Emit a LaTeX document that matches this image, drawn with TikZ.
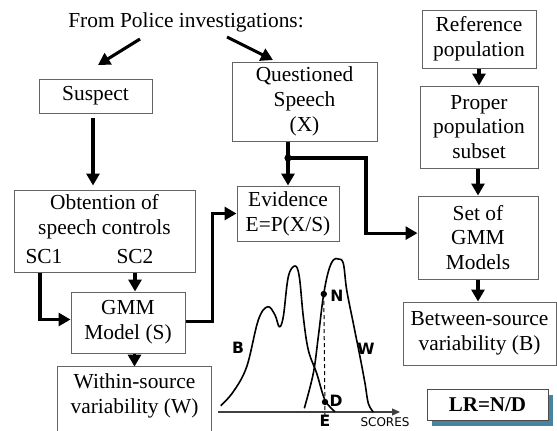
\documentclass[tikz,border=0pt]{standalone}
\usepackage{fontspec}
\setmainfont{Liberation Serif}
\newfontfamily\plotfont{DejaVu Sans}
\usetikzlibrary{arrows.meta,shadows}
\definecolor{boxgray}{RGB}{100,100,100}
\definecolor{shadowblue}{RGB}{72,132,160}
\begin{document}
\begin{tikzpicture}[x=0.5pt,y=-0.5pt,
  txt/.style={font=\fontsize{10.7}{12.4}\selectfont, align=center, inner sep=0pt},
  box/.style={txt, draw=boxgray, line width=0.5pt},
  conn/.style={line width=1.55pt, -{Triangle[length=6pt,width=6.5pt]}},
  plotlbl/.style={font=\plotfont\bfseries\fontsize{7.8}{8}\selectfont, inner sep=0pt},
  curve/.style={line width=0.8pt, smooth, tension=0.6},
  dotmark/.style={fill=black}
]
\useasboundingbox (0,0) rectangle (557,430);

% title
\node[txt] (title) at (186,22) {From Police investigations:};

% boxes
\node[box, minimum width=56.5pt, minimum height=17pt] (suspect) at (95.5,96) {Suspect};
\node[box, minimum width=72.5pt, minimum height=39.5pt] (quest) at (304.5,101.5) {Questioned\\Speech\\(X)};
\node[box, minimum width=51pt, minimum height=27.5pt] (evid) at (288,213.5) {Evidence\\E=P(X/S)};
\node[box, minimum width=57pt, minimum height=29pt] (ref) at (479,39) {Reference\\population};
\node[box, minimum width=59pt, minimum height=41pt] (proper) at (479,127) {Proper\\population\\subset};
\node[box, minimum width=60pt, minimum height=41.5pt] (set) at (478,237.5) {Set of\\GMM\\Models};
\node[box, minimum width=76.5pt, minimum height=31.5pt] (between) at (479.5,333.5) {Between-source\\variability (B)};
\node[box, minimum width=90.5pt, minimum height=41pt] (obt) at (104.5,231) {};
\node[txt] (obttext) at (104.5,217) {Obtention of\\speech controls};
\node[txt] (sc1) at (44,257) {SC1};
\node[txt] (sc2) at (135,257) {SC2};
\node[box, minimum width=57pt, minimum height=30.5pt] (gmm) at (128,322.5) {GMM\\Model (S)};
\node[txt, minimum width=76.5pt, minimum height=28.5pt] (within) at (134.5,395.5) {Within-source\\variability (W)};
\draw[boxgray, line width=0.5pt] ([yshift=-30pt]within.south west) -- (within.north west) -- (within.north east) -- ([yshift=-30pt]within.south east);

\node[box, draw=black!70, fill=white, minimum width=60.5pt, minimum height=15.5pt,
      font=\fontsize{10.5}{12}\selectfont\bfseries,
      drop shadow={shadow xshift=2.5pt, shadow yshift=-3pt, fill=shadowblue, opacity=1}] (lr) at (487.5,404.5) {LR=N/D};

% connectors
\coordinate (t1a) at (140,39);
\coordinate (t1b) at (98,65);
\coordinate (t2a) at (227,37);
\coordinate (t2b) at (273,60);
\draw[conn] (t1a) -- (t1b);
\draw[conn] (t2a) -- (t2b);
\draw[conn, shorten <=2pt, shorten >=2pt] (suspect.south -| 93,0) -- (obt.north -| 93,0);
\draw[conn] ([xshift=-2pt]obt.south -| sc1) |- ([yshift=1.5pt]gmm.west);
\draw[conn] (obt.south -| sc2) -- (gmm.north -| sc2);
\draw[conn] ([yshift=0.5pt]gmm.east) -- ++(27,0) |- (evid.west);
\draw[conn] (gmm.south -| within.north) -- (within.north);
\coordinate (junc) at (288,158);
\draw[conn] (quest.south -| evid.north) -- (evid.north);
\fill (junc) circle (1.8pt);
\draw[conn] (junc) -- (366,158) |- ([yshift=2.2pt]set.west);
\draw[conn] (ref.south) -- (proper.north);
\draw[conn] (proper.south -| set.north) -- (set.north);
\draw[conn] (set.south) -- (between.north -| set.south);

% plot
\coordinate (ax0) at (218,412);
\coordinate (ax1) at (400,412);
\draw[black!75, line width=0.6pt, -{Triangle[length=4pt,width=3.5pt]}] (ax0) -- (ax1);
\draw[curve] plot coordinates {(220.7,405.7) (233.3,391.7) (246.7,366.7) (258.3,320) (267.7,306.7) (275,315) (279.3,326.7) (283.3,316.7) (288.3,276.7) (295,266) (299.3,276.7) (303.3,316.7) (308.3,350) (316.7,373.3) (325,400) (335,411.7)};
\draw[curve] plot coordinates {(304.3,408.3) (313.3,373.3) (318.3,336.7) (323.3,296.7) (328.3,271.7) (333.3,260) (338.3,259) (343.3,263.3) (346.7,290) (353.3,323.3) (360,356.7) (365,383.3) (368.3,403.3) (373.3,412)};
\coordinate (ndot) at (323.8,294);
\coordinate (ddot) at (325,402);
\coordinate (etick) at (325,415);
\draw[dashed, line width=0.5pt, dash pattern=on 2pt off 1.5pt] (ndot) -- (etick);
\fill (ndot) circle (1.6pt);
\fill (ddot) circle (1.6pt);
\node[plotlbl] (nlbl) at (337,296) {N};
\node[plotlbl] (dlbl) at (336,401) {D};
\node[plotlbl] (blbl) at (238,348) {B};
\node[plotlbl] (wlbl) at (366,349) {W};
\node[plotlbl] (elbl) at (325,421) {E};
\node[font=\plotfont\fontsize{6}{7}\selectfont, inner sep=0pt] (scores) at (385,422) {SCORES};
\end{tikzpicture}
\end{document}
